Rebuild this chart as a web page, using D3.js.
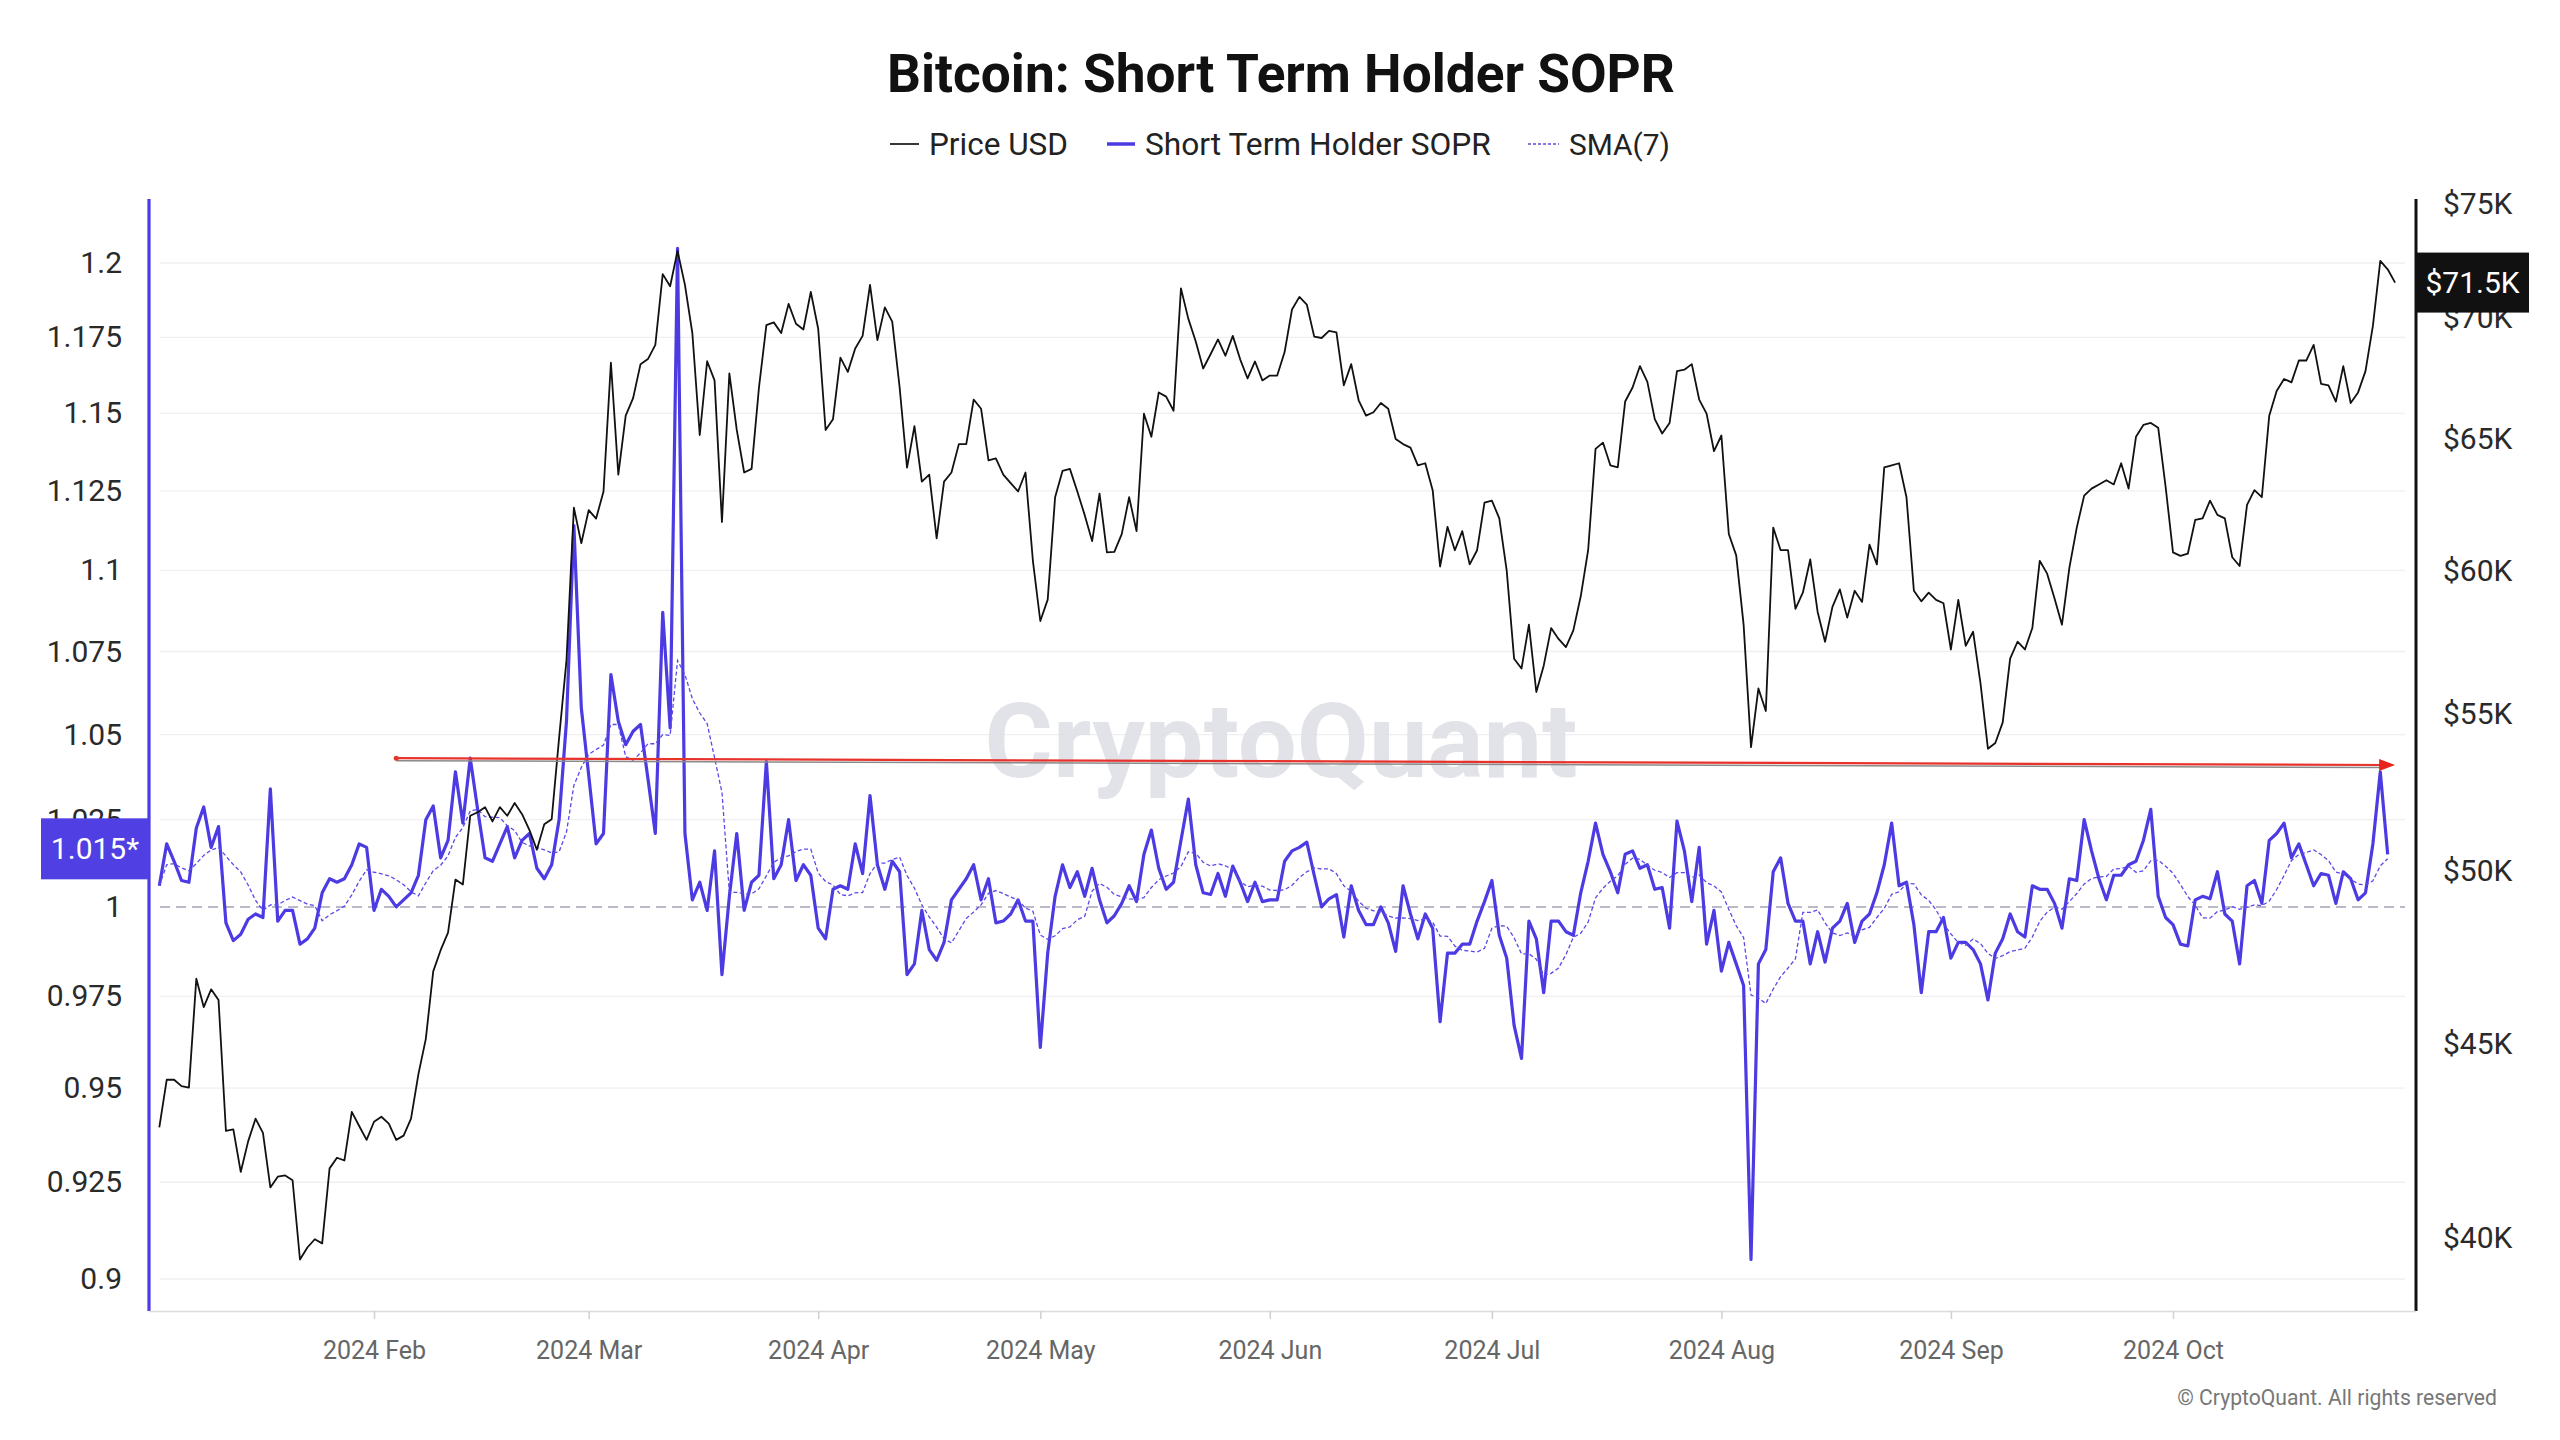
<!DOCTYPE html>
<html>
<head>
<meta charset="utf-8">
<script src="https://cdn.jsdelivr.net/npm/d3@7"></script>
<style>
html,body{margin:0;padding:0;background:#fff;}
svg{display:block;}
text{font-family:Roboto,"Noto Sans","Open Sans",sans-serif;}
</style>
</head>
<body>
<svg id="chart" width="2560" height="1440"></svg>
<script>
// ---------------- DATA ----------------
const firstDay = "2024-01-03";
const chartTitle = "Bitcoin: Short Term Holder SOPR";
const seriesNames = ["Price USD", "Short Term Holder SOPR", "SMA(7)"];

// Daily BTC price (USD), 2024-01-03 .. 2024-10-31
const priceUSD = [
  42775,44030,44030,43860,43820,46820,46020,46520,46220,42680,42720,41630,42410,43000,42630,41240,41510,41540,41420,39470,39760,39960,39860,41720,41990,41920,43180,42810,42450,
  42920,43050,42870,42450,42560,43000,44180,45140,47030,47640,48150,49730,49580,51700,51810,51970,51520,51970,51700,52100,51750,51250,50640,51430,51590,54200,56830,62350,61020,
  62260,61940,62970,68100,63620,65940,66650,68040,68250,68840,71870,71340,72890,71400,69340,65170,68160,67370,61810,67660,65370,63700,63840,67080,69670,69790,69340,70580,69730,69490,71100,
  69520,65370,65800,68310,67720,68690,69220,71400,69040,70430,69820,67080,63890,65520,63350,63620,61200,63350,63700,64810,64810,66590,66220,64170,64250,63620,63290,62970,63700,60370,
  58200,58960,62750,63760,63840,62970,62070,61100,62890,60680,60700,61360,62750,61470,66020,65100,66880,66710,66140,71250,69940,68980,67860,68450,69070,68390,69220,68240,67450,68150,67370,
  67570,67570,68540,70340,70880,70550,69190,69130,69430,69370,67170,68040,66560,65940,66080,66450,66220,65010,64810,64670,63980,64060,63020,60160,61630,60760,61470,60240,60760,62540,
  62620,61950,60010,56880,56540,58070,55740,56640,57950,57570,57280,57870,59080,60760,64620,64870,63980,63900,66510,67080,67960,67310,65800,65230,65650,67750,67810,68040,66590,66020,64530,
  65150,61360,60570,58070,53900,55860,55100,61600,60760,60760,58630,59210,60420,58520,57470,58700,59330,58320,59280,58880,60970,60240,63900,63980,64060,62750,59280,58900,59210,58950,58830,
  57200,58950,57330,57820,56030,53850,54040,54720,56880,57470,57200,57950,60370,59900,59000,58070,60110,61600,62810,63080,63240,63400,63240,64060,63080,65100,65570,65650,65460,63160,
  60680,60550,60630,61890,61950,62620,62080,61950,60500,60180,62460,63020,62750,65940,66940,67430,67290,68190,68190,68840,67230,67170,66510,67960,66450,66880,67750,69640,72450,72080,71500
];

// Daily Short Term Holder SOPR, 2024-01-03 .. 2024-10-30
const sthSOPR = [
  1.006,1.018,1.013,1.0075,1.007,1.0226,1.0287,1.017,1.023,0.9955,0.9905,0.9923,0.9965,0.998,0.997,1.034,0.996,0.999,0.999,0.9895,0.991,0.994,1.004,1.008,1.007,1.008,1.012,1.018,1.017,
  0.999,1.005,1.003,1.000,1.002,1.004,1.009,1.025,1.029,1.014,1.019,1.039,1.024,1.043,1.028,1.014,1.013,1.018,1.023,1.014,1.019,1.021,1.011,1.008,1.012,1.025,1.054,1.114,1.058,
  1.038,1.018,1.021,1.068,1.054,1.047,1.051,1.053,1.037,1.021,1.087,1.052,1.205,1.021,1.002,1.007,0.999,1.016,0.981,1.003,1.021,0.999,1.007,1.009,1.042,1.008,1.012,1.025,1.0075,1.012,1.009,
  0.994,0.991,1.005,1.006,1.005,1.018,1.0095,1.032,1.012,1.005,1.013,1.010,0.981,0.984,0.999,0.988,0.985,0.990,1.002,1.005,1.008,1.012,1.002,1.008,0.9955,0.996,0.998,1.002,0.996,0.996,
  0.961,0.987,1.003,1.012,1.0055,1.010,1.003,1.011,1.002,0.9955,0.9975,1.001,1.006,1.0015,1.015,1.022,1.011,1.005,1.007,1.019,1.031,1.012,1.004,1.0035,1.0095,1.003,1.0116,1.007,1.0015,1.007,1.0015,
  1.002,1.002,1.013,1.016,1.017,1.0185,1.009,1.000,1.0023,1.0035,0.9915,1.006,0.999,0.995,0.995,1.000,0.9955,0.9875,1.006,0.998,0.991,0.998,0.994,0.968,0.987,0.987,0.9895,0.9895,0.996,1.0015,
  1.0075,0.992,0.9856,0.967,0.958,0.996,0.991,0.976,0.996,0.996,0.993,0.992,1.004,1.013,1.024,1.015,1.010,1.004,1.015,1.016,1.011,1.012,1.005,1.0055,0.994,1.0246,1.016,1.0015,1.017,0.9895,0.999,
  0.982,0.990,0.984,0.978,0.905,0.984,0.988,1.010,1.014,1.001,0.996,0.996,0.984,0.993,0.9845,0.994,0.996,1.001,0.990,0.996,0.998,1.004,1.012,1.024,1.006,1.007,0.995,0.976,0.993,0.993,0.997,
  0.9856,0.990,0.990,0.988,0.984,0.974,0.987,0.991,0.998,0.993,0.9915,1.006,1.005,1.005,1.001,0.994,1.008,1.0075,1.025,1.016,1.008,1.002,1.009,1.009,1.012,1.013,1.019,1.028,1.003,0.997,
  0.995,0.9895,0.989,1.002,1.003,1.0023,1.010,0.998,0.996,0.984,1.006,1.0075,1.001,1.019,1.021,1.024,1.014,1.018,1.012,1.006,1.0095,1.009,1.001,1.010,1.008,1.002,1.004,1.018,1.039,1.015
];

const smaWindow = 7;
const soprTicks = [1.2,1.175,1.15,1.125,1.1,1.075,1.05,1.025,1,0.975,0.95,0.925,0.9];
const priceTicks = [40000,45000,50000,55000,60000,65000,70000,75000];
const monthTicks = ["2024-02-01","2024-03-01","2024-04-01","2024-05-01","2024-06-01","2024-07-01","2024-08-01","2024-09-01","2024-10-01"];
const arrowFromDate = "2024-02-04", arrowFromValue = 1.043;
const arrowToDate = "2024-10-31", arrowToValue = 1.041;
const lastSoprLabel = "1.015*";
const lastPriceLabel = "$71.5K";

// ---------------- LAYOUT ----------------
const plot = {left: 149, right: 2416, top: 199, bottom: 1311};
const gridX = [160, 2405];
const BLUE = "#4c3be3";

const svg = d3.select("#chart");
const parse = d3.utcParse("%Y-%m-%d");
const start = parse(firstDay);
const priceData = priceUSD.map((v, i) => ({date: d3.utcDay.offset(start, i), v}));
const soprData = sthSOPR.map((v, i) => ({date: d3.utcDay.offset(start, i), v}));
const smaData = sthSOPR.map((_, i) => ({date: d3.utcDay.offset(start, i),
  v: d3.mean(sthSOPR.slice(Math.max(0, i - smaWindow + 1), i + 1))}));

const x = d3.scaleUtc().domain([parse("2024-02-01"), parse("2024-10-01")]).range([374, 2173]);
const yL = d3.scaleLog().domain([0.9, 1.2]).range([1279, 263]);
const yR = d3.scaleLog().domain([40000, 75000]).range([1237.6, 204]);

function fit(sel, target) {
  const w = sel.node().getComputedTextLength();
  if (w > 0) sel.attr("font-size", (+sel.attr("font-size")) * target / w);
  return +sel.attr("font-size");
}

svg.append("rect").attr("width", 2560).attr("height", 1440).attr("fill", "#fff");

// clip
svg.append("defs").append("clipPath").attr("id", "clip")
  .append("rect").attr("x", plot.left + 2).attr("y", plot.top)
  .attr("width", plot.right - plot.left - 4).attr("height", plot.bottom - plot.top);

// gridlines
svg.append("g").selectAll("line").data(soprTicks.filter(t => t !== 1)).join("line")
  .attr("x1", gridX[0]).attr("x2", gridX[1])
  .attr("y1", d => yL(d)).attr("y2", d => yL(d))
  .attr("stroke", "#efeff2").attr("stroke-width", 1.3);

// watermark
const wm = svg.append("text").text("CryptoQuant")
  .attr("x", 1281).attr("y", 777).attr("text-anchor", "middle")
  .attr("font-size", 100).attr("font-weight", 700)
  .attr("fill", "#dedee6").attr("opacity", 0.85);
fit(wm, 593);

// baseline at 1
svg.append("line").attr("x1", gridX[0]).attr("x2", gridX[1])
  .attr("y1", yL(1)).attr("y2", yL(1))
  .attr("stroke", "#b9b9c8").attr("stroke-width", 2).attr("stroke-dasharray", "10,6");

const g = svg.append("g").attr("clip-path", "url(#clip)");
const lineL = d3.line().x(d => x(d.date)).y(d => yL(d.v));
const lineR = d3.line().x(d => x(d.date)).y(d => yR(d.v));

g.append("path").datum(soprData).attr("d", lineL)
  .attr("fill", "none").attr("stroke", BLUE).attr("stroke-width", 3.2).attr("stroke-linejoin", "round");
g.append("path").datum(smaData).attr("d", lineL)
  .attr("fill", "none").attr("stroke", "#5a4ae8").attr("stroke-width", 1.3).attr("stroke-dasharray", "4,2.5");
g.append("path").datum(priceData).attr("d", lineR)
  .attr("fill", "none").attr("stroke", "#111").attr("stroke-width", 1.8).attr("stroke-linejoin", "round");

// red arrow annotation
const ax1 = x(parse(arrowFromDate)), ay1 = yL(arrowFromValue);
const ax2 = x(parse(arrowToDate)), ay2 = yL(arrowToValue);
svg.append("line").attr("x1", ax1).attr("y1", ay1 + 2.5).attr("x2", ax2 - 10).attr("y2", ay2 + 2.5)
  .attr("stroke", "#8a8a8a").attr("stroke-width", 1.5);
svg.append("line").attr("x1", ax1).attr("y1", ay1).attr("x2", ax2 - 10).attr("y2", ay2)
  .attr("stroke", "#e8322c").attr("stroke-width", 2.2);
svg.append("path").attr("d", `M${ax2},${ay2} L${ax2 - 16},${ay2 - 6} L${ax2 - 16},${ay2 + 6} Z`)
  .attr("fill", "#e8221c");
svg.append("circle").attr("cx", ax1).attr("cy", ay1).attr("r", 2.5).attr("fill", "#e8322c");

// left axis
const leftAxis = d3.axisLeft(yL).tickValues(soprTicks).tickSize(0).tickPadding(27)
  .tickFormat(d => String(+d.toFixed(3)));
const gl = svg.append("g").attr("transform", `translate(${plot.left},0)`).call(leftAxis);
gl.select(".domain").remove();
gl.selectAll("text").attr("font-size", 30).attr("fill", "#2a2a2a").attr("font-family", "Roboto");
svg.append("line").attr("x1", plot.left).attr("x2", plot.left).attr("y1", plot.top).attr("y2", plot.bottom)
  .attr("stroke", BLUE).attr("stroke-width", 3.2);

// right axis
const rightAxis = d3.axisRight(yR).tickValues(priceTicks).tickSize(0).tickPadding(27)
  .tickFormat(d => "$" + (d / 1000) + "K");
const gr = svg.append("g").attr("transform", `translate(${plot.right},0)`).call(rightAxis);
gr.select(".domain").remove();
gr.selectAll("text").attr("font-size", 30).attr("fill", "#2a2a2a").attr("font-family", "Roboto");
svg.append("line").attr("x1", plot.right).attr("x2", plot.right).attr("y1", plot.top).attr("y2", plot.bottom)
  .attr("stroke", "#111").attr("stroke-width", 3);

// bottom axis
const bottomAxis = d3.axisBottom(x).tickValues(monthTicks.map(parse)).tickSize(8).tickPadding(22)
  .tickFormat(d3.utcFormat("%Y %b"));
const gb = svg.append("g").attr("transform", `translate(0,${plot.bottom})`).call(bottomAxis);
gb.select(".domain").attr("d", `M${plot.left},0.5H${plot.right}`).attr("stroke", "#dcdcdc").attr("stroke-width", 1.5);
gb.selectAll(".tick line").attr("stroke", "#d0d0d0").attr("stroke-width", 1.5);
gb.selectAll("text").attr("font-size", 25).attr("fill", "#666").attr("font-family", "Roboto");

// last value labels
const lastPrice = priceData[priceData.length - 1];
const py = yR(lastPrice.v);
svg.append("rect").attr("x", plot.right).attr("y", py - 30).attr("width", 113).attr("height", 60).attr("fill", "#111");
svg.append("text").text(lastPriceLabel).attr("x", plot.right + 56.5).attr("y", py)
  .attr("dy", "0.36em").attr("text-anchor", "middle").attr("font-size", 30).attr("fill", "#fff");

const lastSopr = soprData[soprData.length - 1];
const sy = yL(lastSopr.v) - 6;
svg.append("rect").attr("x", 41).attr("y", sy - 30).attr("width", plot.left - 41).attr("height", 61).attr("fill", "#5040e4");
svg.append("text").text(lastSoprLabel).attr("x", (41 + plot.left) / 2).attr("y", sy)
  .attr("dy", "0.36em").attr("text-anchor", "middle").attr("font-size", 30).attr("fill", "#fff");

// title
const title = svg.append("text").text(chartTitle).attr("x", 1281).attr("y", 90)
  .attr("text-anchor", "middle").attr("font-size", 46).attr("font-weight", 700).attr("fill", "#111");
const tfs = fit(title, 788);
title.attr("y", 73.5 + 0.355 * tfs);

// legend
const legendY = 144;
const legend = [
  {name: seriesNames[0], x1: 890, x2: 919, tx: 929, tw: 139, stroke: "#222", sw: 1.8, dash: null},
  {name: seriesNames[1], x1: 1107, x2: 1135, tx: 1145, tw: 346, stroke: BLUE, sw: 3.5, dash: null},
  {name: seriesNames[2], x1: 1528, x2: 1559, tx: 1569, tw: 101, stroke: "#5a4ae8", sw: 1.3, dash: "3,2"}
];
legend.forEach(it => {
  svg.append("line").attr("x1", it.x1).attr("x2", it.x2).attr("y1", legendY).attr("y2", legendY)
    .attr("stroke", it.stroke).attr("stroke-width", it.sw).attr("stroke-dasharray", it.dash);
  const t = svg.append("text").text(it.name).attr("x", it.tx).attr("y", legendY)
    .attr("font-size", 30).attr("fill", "#222");
  const fs = fit(t, it.tw);
  t.attr("y", legendY + 0.355 * fs);
});

// copyright
const cp = svg.append("text").text("© CryptoQuant. All rights reserved")
  .attr("x", 2497).attr("y", 1405).attr("text-anchor", "end").attr("font-size", 23).attr("fill", "#777");
fit(cp, 320);
</script>
</body>
</html>
